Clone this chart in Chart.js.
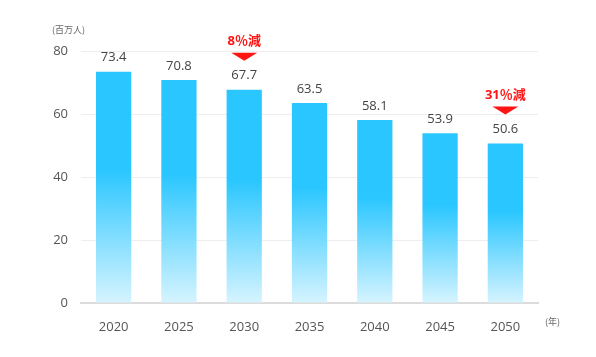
<!DOCTYPE html>
<html><head><meta charset="utf-8">
<script src="https://cdn.jsdelivr.net/npm/chart.js@4/dist/chart.umd.min.js"></script>
<style>html,body{margin:0;padding:0;background:#fff}#wrap{width:596px;height:357px;position:relative}</style>
</head><body><div id="wrap"><canvas id="c" width="596" height="357"></canvas></div>
<script>
const years = ['2020','2025','2030','2035','2040','2045','2050'];
const population = [73.4, 70.8, 67.7, 63.5, 58.1, 53.9, 50.6];
const yTicks = [0, 20, 40, 60, 80];
const calloutIndex = [2, 6];
const calloutText = ['8％減', '31％減'];
const yUnit = '(百万人)';
const xUnit = '(年)';

const FONT = '"Open Sans", "Noto Sans CJK JP", sans-serif';
const CJK = '"Noto Sans CJK JP", sans-serif';

const overlay = {
  id: 'overlay',
  afterDatasetsDraw(chart) {
    const ctx = chart.ctx;
    const meta = chart.getDatasetMeta(0);
    ctx.save();
    ctx.textAlign = 'center';
    ctx.textBaseline = 'middle';
    ctx.fillStyle = '#444';
    ctx.font = '13px ' + FONT;
    meta.data.forEach((bar, i) => {
      ctx.fillText(population[i].toFixed(1), bar.x, bar.y - 14);
    });
    calloutIndex.forEach((idx, k) => {
      const bar = meta.data[idx];
      ctx.fillStyle = '#ff1414';
      ctx.beginPath();
      ctx.moveTo(bar.x - 13, bar.y - 37);
      ctx.lineTo(bar.x + 13, bar.y - 37);
      ctx.lineTo(bar.x, bar.y - 29);
      ctx.closePath();
      ctx.fill();
      ctx.font = 'bold 13px ' + FONT;
      ctx.fillText(calloutText[k], bar.x, bar.y - 48);
    });
    ctx.fillStyle = '#666';
    ctx.font = '9px ' + CJK;
    ctx.textAlign = 'left';
    ctx.fillText(yUnit, 52, 30);
    ctx.fillText(xUnit, 545, 322);
    ctx.restore();
  }
};

new Chart(document.getElementById('c'), {
  type: 'bar',
  data: {
    labels: years,
    datasets: [{
      data: population,
      backgroundColor: (c) => {
        const chart = c.chart;
        if (!chart.chartArea) return '#29c6ff';
        const y = chart.scales.y;
        const top = y.getPixelForValue(c.raw);
        const bot = y.getPixelForValue(0);
        const g = chart.ctx.createLinearGradient(0, top, 0, bot);
        g.addColorStop(0, '#29c6ff');
        g.addColorStop(0.42, '#29c6ff');
        g.addColorStop(1, '#d6f4ff');
        return g;
      },
      borderWidth: 0,
      barPercentage: 0.54,
      categoryPercentage: 1.0
    }]
  },
  options: {
    responsive: false,
    animation: false,
    layout: { padding: { top: 51, right: 58, bottom: 0, left: 0 } },
    plugins: { legend: { display: false }, tooltip: { enabled: false } },
    scales: {
      x: {
        grid: { display: false },
        border: { color: '#dcdcdc', width: 2 },
        ticks: { color: '#555', font: { family: FONT, size: 13 }, padding: 8 },
        afterFit: (s) => { s.height = 54; }
      },
      y: {
        min: 0, max: 80,
        afterBuildTicks: (s) => { s.ticks = yTicks.map(v => ({ value: v })); },
        grid: { color: '#eeeeee', lineWidth: 1, drawTicks: false },
        border: { display: false },
        ticks: { color: '#555', font: { family: FONT, size: 13 }, padding: 13 },
        afterFit: (s) => { s.width = 81; }
      }
    }
  },
  plugins: [overlay]
});
</script></body></html>
